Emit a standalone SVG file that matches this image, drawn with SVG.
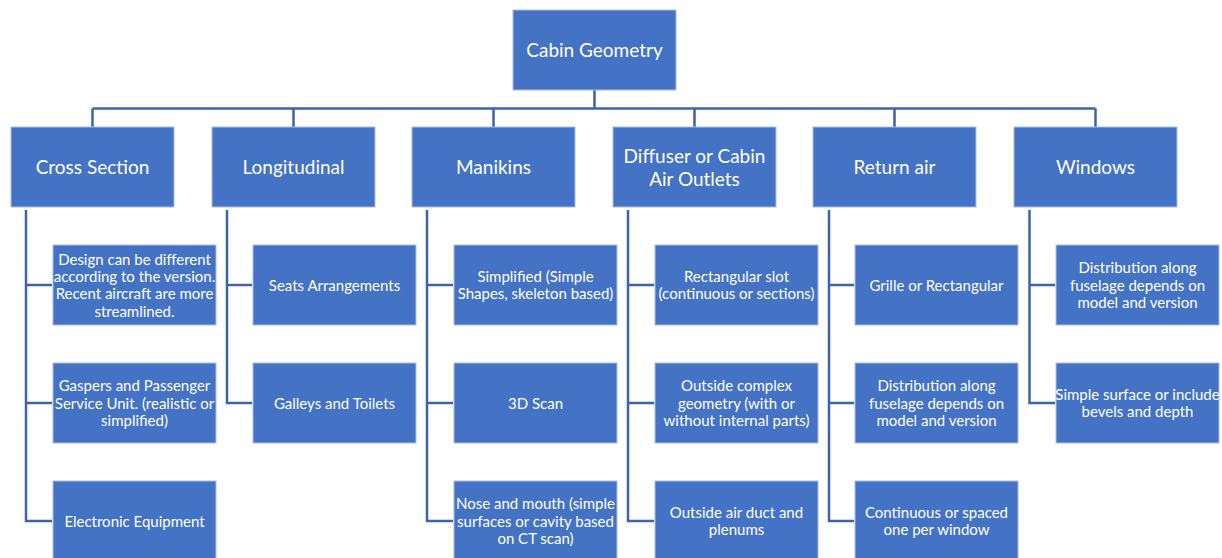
<svg xmlns="http://www.w3.org/2000/svg" width="1222" height="558" viewBox="0 0 1222 558">
<style>
.box{fill:#4472C4;stroke:#A9BEE3;stroke-width:1}
.t{font-family:Lato,"Liberation Sans",sans-serif;fill:#fff;text-anchor:middle;dominant-baseline:central}
.top{font-size:19px}
.ch{font-size:15px}
.root{font-size:19px}
.con{fill:none;stroke:#3C64AD;stroke-width:2.5}
</style>
<rect width="1222" height="558" fill="#fff"/>
<g id="connectors" class="con">
<path d="M594.5 90V108.5M92.5 108.5H1095.5M92.5 108.5V127M293.5 108.5V127M493.5 108.5V127M694.5 108.5V127M894.5 108.5V127M1095.5 108.5V127"/>
<path d="M26 210V521H52M26 285H52M26 403H52"/>
<path d="M227 210V403H252M227 285H252"/>
<path d="M427 210V521H453M427 285H453M427 403H453"/>
<path d="M628 210V521H654M628 285H654M628 403H654"/>
<path d="M829 210V521H854M829 285H854M829 403H854"/>
<path d="M1029.5 210V403H1055M1029.5 285H1055"/>
</g>
<g id="root"><rect class="box" x="513" y="10" width="163" height="80"/><text class="t root" x="594.5" y="49.5">Cabin Geometry</text></g>
<g id="cross-section"><rect class="box" x="11" y="127" width="163" height="80"/><text class="t top" x="92.5" y="166.5">Cross Section</text></g>
<g id="longitudinal"><rect class="box" x="212" y="127" width="163" height="80"/><text class="t top" x="293.5" y="166.5">Longitudinal</text></g>
<g id="manikins"><rect class="box" x="412" y="127" width="163" height="80"/><text class="t top" x="493.5" y="166.5">Manikins</text></g>
<g id="diffuser"><rect class="box" x="613" y="127" width="163" height="80"/><text class="t top" x="694.5" y="155.5">Diffuser or Cabin</text><text class="t top" x="694.5" y="178.5">Air Outlets</text></g>
<g id="return-air"><rect class="box" x="813" y="127" width="163" height="80"/><text class="t top" x="894.5" y="166.5">Return air</text></g>
<g id="windows"><rect class="box" x="1014" y="127" width="163" height="80"/><text class="t top" x="1095.5" y="166.5">Windows</text></g>

<g id="cs1"><rect class="box" x="53" y="245" width="163" height="80"/><text class="t ch" x="134.5" y="258.5">Design can be different</text><text class="t ch" x="134.5" y="275.8">according to the version.</text><text class="t ch" x="134.5" y="293.2">Recent aircraft are more</text><text class="t ch" x="134.5" y="310.5">streamlined.</text></g>
<g id="cs2"><rect class="box" x="53" y="363" width="163" height="80"/><text class="t ch" x="134.5" y="385.2">Gaspers and Passenger</text><text class="t ch" x="134.5" y="402.5">Service Unit. (realistic or</text><text class="t ch" x="134.5" y="419.8">simplified)</text></g>
<g id="cs3"><rect class="box" x="53" y="481" width="163" height="80"/><text class="t ch" x="134.5" y="520.5">Electronic Equipment</text></g>

<g id="lo1"><rect class="box" x="253" y="245" width="163" height="80"/><text class="t ch" x="334.5" y="284.5">Seats Arrangements</text></g>
<g id="lo2"><rect class="box" x="253" y="363" width="163" height="80"/><text class="t ch" x="334.5" y="402.5">Galleys and Toilets</text></g>

<g id="ma1"><rect class="box" x="454" y="245" width="163" height="80"/><text class="t ch" x="535.5" y="275.8">Simplified (Simple</text><text class="t ch" x="535.5" y="293.2">Shapes, skeleton based)</text></g>
<g id="ma2"><rect class="box" x="454" y="363" width="163" height="80"/><text class="t ch" x="535.5" y="402.5">3D Scan</text></g>
<g id="ma3"><rect class="box" x="454" y="481" width="163" height="80"/><text class="t ch" x="535.5" y="503.2">Nose and mouth (simple</text><text class="t ch" x="535.5" y="520.5">surfaces or cavity based</text><text class="t ch" x="535.5" y="537.8">on CT scan)</text></g>

<g id="di1"><rect class="box" x="655" y="245" width="163" height="80"/><text class="t ch" x="736.5" y="275.8">Rectangular slot</text><text class="t ch" x="736.5" y="293.2">(continuous or sections)</text></g>
<g id="di2"><rect class="box" x="655" y="363" width="163" height="80"/><text class="t ch" x="736.5" y="385.2">Outside complex</text><text class="t ch" x="736.5" y="402.5">geometry (with or</text><text class="t ch" x="736.5" y="419.8">without internal parts)</text></g>
<g id="di3"><rect class="box" x="655" y="481" width="163" height="80"/><text class="t ch" x="736.5" y="511.8">Outside air duct and</text><text class="t ch" x="736.5" y="529.2">plenums</text></g>

<g id="ra1"><rect class="box" x="855" y="245" width="163" height="80"/><text class="t ch" x="936.5" y="284.5">Grille or Rectangular</text></g>
<g id="ra2"><rect class="box" x="855" y="363" width="163" height="80"/><text class="t ch" x="936.5" y="385.2">Distribution along</text><text class="t ch" x="936.5" y="402.5">fuselage depends on</text><text class="t ch" x="936.5" y="419.8">model and version</text></g>
<g id="ra3"><rect class="box" x="855" y="481" width="163" height="80"/><text class="t ch" x="936.5" y="511.8">Continuous or spaced</text><text class="t ch" x="936.5" y="529.2">one per window</text></g>

<g id="wi1"><rect class="box" x="1056" y="245" width="163" height="80"/><text class="t ch" x="1137.5" y="267.2">Distribution along</text><text class="t ch" x="1137.5" y="284.5">fuselage depends on</text><text class="t ch" x="1137.5" y="301.8">model and version</text></g>
<g id="wi2"><rect class="box" x="1056" y="363" width="163" height="80"/><text class="t ch" x="1137.5" y="393.8">Simple surface or include</text><text class="t ch" x="1137.5" y="411.2">bevels and depth</text></g>
</svg>
